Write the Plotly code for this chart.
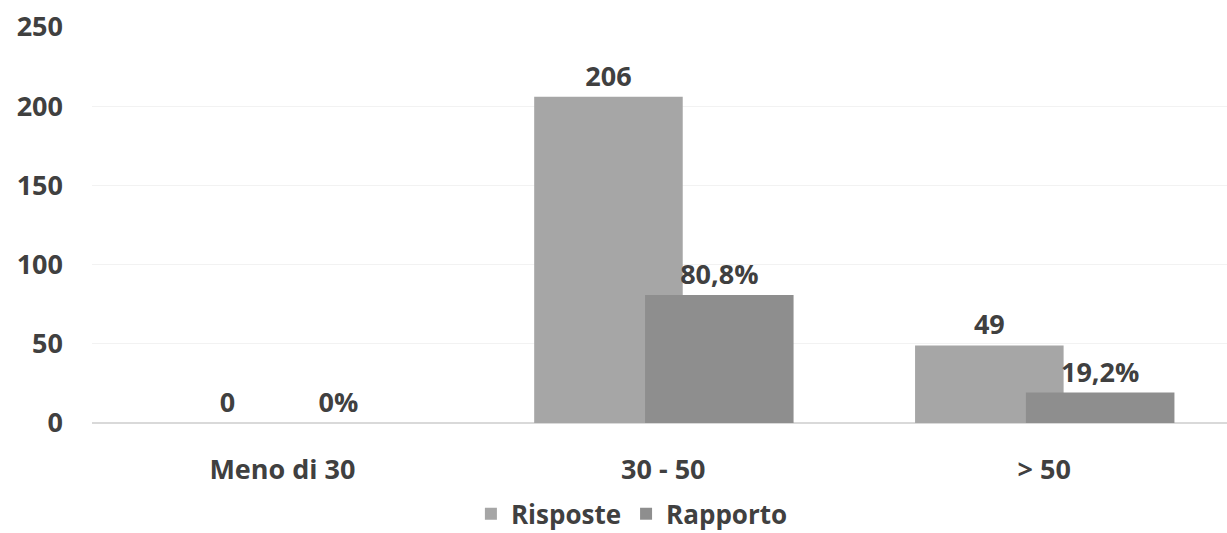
import plotly.graph_objects as go

categories = ["Meno di 30", "30 - 50", "> 50"]
risposte = [0, 206, 49]
rapporto = [0, 80.8, 19.2]
risposte_labels = ["0", "206", "49"]
rapporto_labels = ["0%", "80,8%", "19,2%"]
y_ticks = [0, 50, 100, 150, 200, 250]

FONT = "Open Sans"
TXT = "#404040"
FS = 27

fig = go.Figure()
fig.add_trace(go.Bar(
    x=categories, y=risposte, name="Risposte",
    marker=dict(color="#a6a6a6", line=dict(width=0)),
    width=0.39, offset=-0.339,
    text=risposte_labels, textposition="outside", cliponaxis=False,
    textfont=dict(family=FONT, size=FS, color=TXT, weight="bold"),
))
fig.add_trace(go.Bar(
    x=categories, y=rapporto, name="Rapporto",
    marker=dict(color="#8e8e8e", line=dict(width=0)),
    width=0.39, offset=-0.048,
    text=rapporto_labels, textposition="outside", cliponaxis=False,
    textfont=dict(family=FONT, size=FS, color=TXT, weight="bold"),
))

fig.update_layout(
    width=1227, height=533,
    barmode="overlay",
    plot_bgcolor="white", paper_bgcolor="white",
    margin=dict(l=92, r=0, t=27, b=110, autoexpand=False),
    font=dict(family=FONT, color=TXT, size=FS, weight="bold"),
    showlegend=True,
    legend=dict(
        orientation="h", xref="container", yref="paper",
        x=0.515, xanchor="center", y=-0.17, yanchor="top",
        font=dict(family=FONT, size=FS - 1, color=TXT, weight="bold"),
        itemsizing="constant", traceorder="normal",
        itemwidth=30, tracegroupgap=0,
    ),
    xaxis=dict(
        range=[-0.5, 2.48], showgrid=False, showline=False, zeroline=False,
        tickfont=dict(family=FONT, size=FS, color=TXT, weight="bold"),
        ticks="", ticklabelstandoff=28,
    ),
    yaxis=dict(
        range=[0, 250], tickvals=y_ticks, showgrid=True, gridcolor="#f2f2f2",
        gridwidth=1, zeroline=True, zerolinecolor="#d9d9d9", zerolinewidth=2,
        showline=False, ticks="", ticklabelstandoff=28,
        tickfont=dict(family=FONT, size=FS, color=TXT, weight="bold"),
    ),
)

fig.write_html("out.html")
